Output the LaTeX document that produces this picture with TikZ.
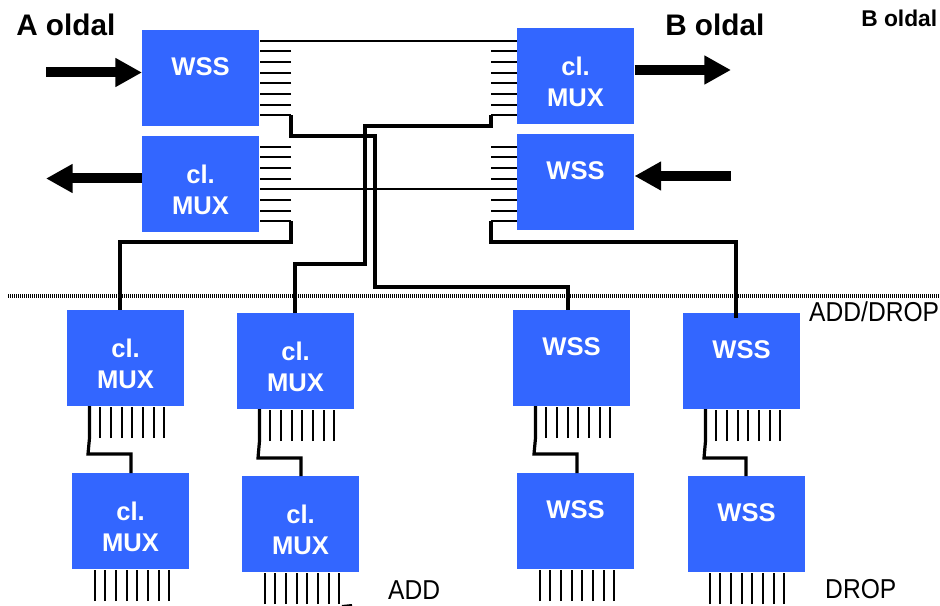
\documentclass[tikz,border=0pt]{standalone}
\usepackage{fontspec}
\setmainfont{Liberation Sans}
\usetikzlibrary{arrows.meta,calc}
\definecolor{boxblue}{HTML}{3366FF}
\tikzset{
  blockbox/.style={fill=boxblue,draw=none,minimum width=87.75pt,minimum height=72pt,inner sep=0pt},
  blocktext/.style={text=white,align=center,inner sep=0pt,font=\bfseries\fontsize{19.2pt}{23.25pt}\selectfont},
  stub/.style={line width=1.5pt,black},
  wire/.style={line width=2.4pt,black,line join=miter},
  thinwire/.style={line width=1.5pt,black},
  bigarrow/.style={line width=7.5pt,black,-{Triangle[length=20pt,width=20.5pt]}},
  sepline/.style={line width=2.6pt,black,dash pattern=on 1.1pt off 0.4pt},
  heading/.style={inner sep=0pt,font=\bfseries\fontsize{22.3pt}{26pt}\selectfont},
  small/.style={inner sep=0pt,xscale=0.9,font=\fontsize{20.5pt}{24pt}\selectfont},
}
% name, left, top, text
\newcommand{\blockone}[4]{%
  \node[blockbox,anchor=north west] (#1) at (#2,#3) {};
  \node[blocktext] (#1t) at ($(#1.north west)+(58.5,37)$) {#4};}
\newcommand{\blocktwo}[4]{%
  \node[blockbox,anchor=north west] (#1) at (#2,#3) {};
  \node[blocktext] (#1t) at ($(#1.north west)+(58.5,53.5)$) {#4};}
% horizontal stubs: name, box, x of free end, first y
\newcommand{\hstubs}[4]{%
  \foreach \i in {0,...,7} {
    \coordinate (#1\i) at (#3,{floor(#4+\i*10.67)+0.5});
    \draw[stub] (#1\i) -- (#1\i -| #2);
  }}
% vertical stubs: name, box, first x, y of free end
\newcommand{\vstubs}[4]{%
  \foreach \i in {0,...,7} {
    \coordinate (#1\i) at ({floor(#3+\i*10.67)+0.5},#4);
    \draw[stub] (#1\i) -- (#1\i |- #2);
  }}
\begin{document}
\begin{tikzpicture}[x=0.75pt,y=-0.75pt]
\useasboundingbox (0,0) rectangle (940,606);
% upper blocks
\blockone{AW}{142}{30}{WSS}
\blocktwo{AM}{142}{136}{cl.\\MUX}
\blocktwo{BM}{517}{28}{cl.\\MUX}
\blockone{BW}{517}{134}{WSS}
% lower blocks
\blocktwo{CA}{67}{310}{cl.\\MUX}
\blocktwo{CB}{237}{313}{cl.\\MUX}
\blockone{CC}{513}{310}{WSS}
\blockone{CD}{683}{313}{WSS}
\blocktwo{DA}{72}{473}{cl.\\MUX}
\blocktwo{DB}{242}{476}{cl.\\MUX}
\blockone{DC}{517}{473}{WSS}
\blockone{DD}{688}{476}{WSS}
% stubs
\hstubs{aw}{AW.east}{291}{41}
\hstubs{am}{AM.east}{291}{147}
\hstubs{bm}{BM.west}{491}{41}
\hstubs{bw}{BW.west}{491}{147}
\vstubs{ca}{CA.south}{89}{438}
\vstubs{cb}{CB.south}{259}{441}
\vstubs{cc}{CC.south}{535}{438}
\vstubs{cd}{CD.south}{705}{441}
\vstubs{da}{DA.south}{94}{601}
\vstubs{db}{DB.south}{264}{604}
\vstubs{dc}{DC.south}{539}{601}
\vstubs{dd}{DD.south}{709}{604}
% separator
\coordinate (sepL) at (8,296);
\coordinate (sepR) at (940,296);
\draw[sepline] (sepL) -- (sepR);
% wires
\draw[thinwire] (aw0) -- (bm0);
\draw[thinwire] (am4) -- (bw4);
\draw[wire] (aw7) -- (291,136) -- (375,136) -- (375,287) -- (568,287) -- (568,310);
\draw[wire] (bm7) -- (491,126) -- (365,126) -- (365,264) -- (295,264) -- (295,313);
\draw[wire] (am7) -- (291,242) -- (120,242) -- (120,310);
\draw[wire] (bw7) -- (491,242) -- (736,242) -- (736,318);
% chained blocks
\draw[wire] (89.5,406) -- (ca0) -- (88,454) -- (131,454) -- (131,473);
\draw[wire] (259.5,409) -- (cb0) -- (258,458) -- (301,458) -- (301,476);
\draw[wire] (535.5,406) -- (cc0) -- (534,454) -- (577,454) -- (577,473);
\draw[wire] (705.5,409) -- (cd0) -- (704,458) -- (746,458) -- (746,476);
% big arrows
\coordinate (inA) at (46,72.5);
\coordinate (outA) at (46,178.5);
\coordinate (outB) at (731,70);
\coordinate (inB) at (731,176);
\draw[bigarrow] (inA) -- (inA -| AW.west);
\draw[bigarrow] (outA -| AM.west) -- (outA);
\draw[bigarrow] (outB -| BM.east) -- (outB);
\draw[bigarrow] (inB) -- (inB -| BW.east);
% small mark at the bottom edge
\coordinate (markL) at (342,606);
\coordinate (markR) at (352,605);
\draw[stub] (markL) -- (markR);
% labels
\node[heading,anchor=west] (la) at (16,25) {A oldal};
\node[heading,anchor=west] (lb) at (665,25) {B oldal};
\node[inner sep=0pt,anchor=west,font=\bfseries\fontsize{17.1pt}{20pt}\selectfont] (lc) at (861,18) {B oldal};
\node[small,anchor=west] (ld) at (809,312) {ADD/DROP};
\node[small,anchor=west] (le) at (388,590) {ADD};
\node[small,anchor=west] (lf) at (825,589) {DROP};
\end{tikzpicture}
\end{document}
